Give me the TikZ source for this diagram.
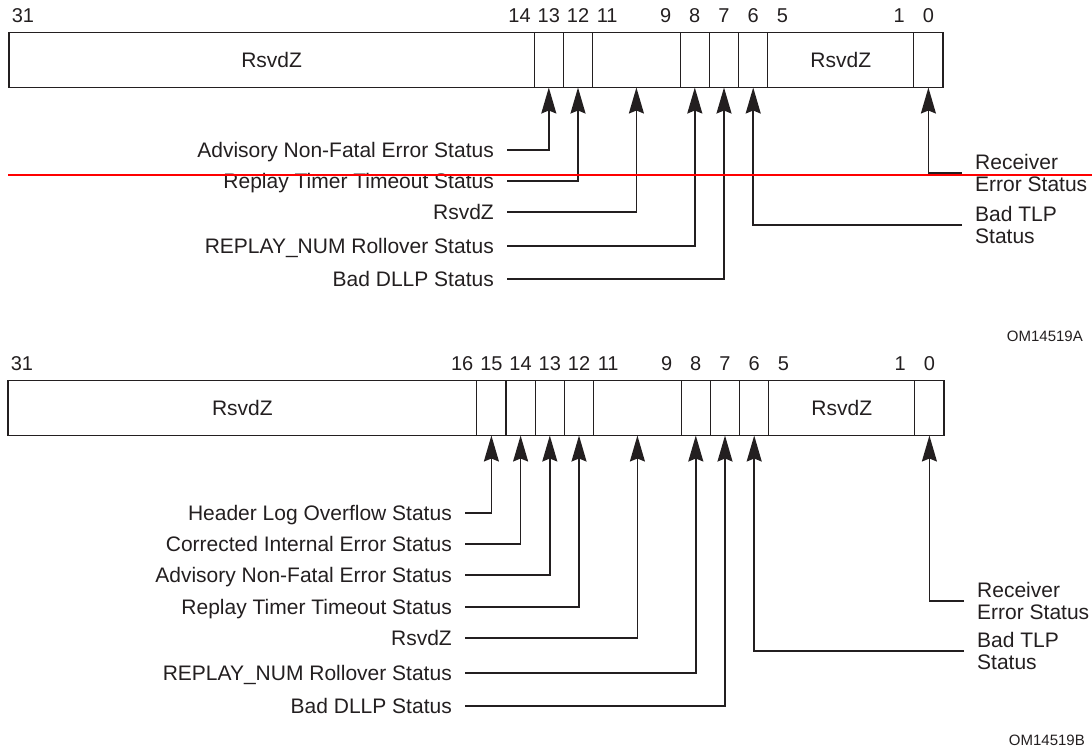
\documentclass[tikz,border=0pt]{standalone}
\usepackage{fontspec}
\setmainfont{Liberation Sans}
\usepackage{tikz}
\usetikzlibrary{arrows.meta,positioning}

\definecolor{ink}{HTML}{231F20}

\tikzset{
  field/.style={draw=ink, line width=1.1pt, minimum height=55pt, inner sep=0pt, outer sep=0pt, text=ink},
  onebit/.style={field, minimum width=29.2pt},
  bitno/.style={text=ink, inner sep=0pt, font=\fontsize{20}{22}\selectfont},
  lbl/.style={anchor=east, inner xsep=13pt, inner ysep=0pt, text height=15pt, text depth=0pt, text=ink},
  rlbl/.style={anchor=west, align=left, inner xsep=13pt, inner ysep=0pt, text=ink},
  arrowline/.style={draw=ink, line width=1.6pt, -{Stealth[length=26pt,width=15pt,inset=3pt]}},
  tag/.style={anchor=east, inner sep=0pt, text=ink, font=\fontsize{15}{17}\selectfont}
}

\begin{document}
\begin{tikzpicture}[x=1pt, y=-1pt, font=\fontsize{21}{21.5}\selectfont]
\path[use as bounding box] (0,0) rectangle (1092,750);

% upper register
\node[field, minimum width=525.2pt] (A31) at (271.6,60) {RsvdZ};
\node[onebit, right=0pt of A31] (A13) {};
\node[onebit, right=0pt of A13] (A12) {};
\node[field, minimum width=87.6pt, right=0pt of A12] (A11) {};
\node[onebit, right=0pt of A11] (A8) {};
\node[onebit, right=0pt of A8] (A7) {};
\node[onebit, right=0pt of A7] (A6) {};
\node[field, minimum width=146pt, right=0pt of A6] (A5) {RsvdZ};
\node[onebit, right=0pt of A5] (A0) {};
\draw[ink, line width=1.8pt] (A31.north west) rectangle (A0.south east);

\node[bitno] (na31) at (23,16) {31};
\node[bitno] (na14) at (519.6,16) {14};
\node[bitno] (na13) at (548.8,16) {13};
\node[bitno] (na12) at (578,16) {12};
\node[bitno] (na11) at (607.2,16) {11};
\node[bitno] (na9) at (665.6,16) {9};
\node[bitno] (na8) at (694.8,16) {8};
\node[bitno] (na7) at (724,16) {7};
\node[bitno] (na6) at (753.2,16) {6};
\node[bitno] (na5) at (782.4,16) {5};
\node[bitno] (na1) at (899.2,16) {1};
\node[bitno] (na0) at (928.4,16) {0};

\node[lbl] (la13) at (507,150) {Advisory Non-Fatal Error Status};
\node[lbl] (la12) at (507,181) {Replay Timer Timeout Status};
\node[lbl] (la11) at (507,212) {RsvdZ};
\node[lbl] (la8) at (507,246) {REPLAY\_NUM Rollover Status};
\node[lbl] (la7) at (507,279) {Bad DLLP Status};
\node[rlbl] (la0) at (962,173) {Receiver\\Error Status};
\node[rlbl] (la6) at (962,225) {Bad TLP\\Status};

\draw[arrowline] (la13.east) -| (A13.south);
\draw[arrowline] (la12.east) -| (A12.south);
\draw[arrowline] (la11.east) -| (A11.south);
\draw[arrowline] (la8.east) -| (A8.south);
\draw[arrowline] (la7.east) -| (A7.south);
\draw[arrowline] (la0.west) -| (A0.south);
\draw[arrowline] (la6.west) -| (A6.south);

\node[tag] (omA) at (1083,336) {OM14519A};

% lower register
\node[field, minimum width=468.8pt] (B31) at (242.4,408) {RsvdZ};
\node[onebit, right=0pt of B31] (B15) {};
\node[onebit, right=0pt of B15] (B14) {};
\node[onebit, right=0pt of B14] (B13) {};
\node[onebit, right=0pt of B13] (B12) {};
\node[field, minimum width=87.6pt, right=0pt of B12] (B11) {};
\node[onebit, right=0pt of B11] (B8) {};
\node[onebit, right=0pt of B8] (B7) {};
\node[onebit, right=0pt of B7] (B6) {};
\node[field, minimum width=146pt, right=0pt of B6] (B5) {RsvdZ};
\node[onebit, right=0pt of B5] (B0) {};
\draw[ink, line width=1.8pt] (B31.north west) rectangle (B0.south east);

\node[bitno] (nb31) at (22,363.5) {31};
\node[bitno] (nb16) at (462.2,363.5) {16};
\node[bitno] (nb15) at (491.4,363.5) {15};
\node[bitno] (nb14) at (520.6,363.5) {14};
\node[bitno] (nb13) at (549.8,363.5) {13};
\node[bitno] (nb12) at (579,363.5) {12};
\node[bitno] (nb11) at (608.2,363.5) {11};
\node[bitno] (nb9) at (666.6,363.5) {9};
\node[bitno] (nb8) at (695.8,363.5) {8};
\node[bitno] (nb7) at (725,363.5) {7};
\node[bitno] (nb6) at (754.2,363.5) {6};
\node[bitno] (nb5) at (783.4,363.5) {5};
\node[bitno] (nb1) at (900.2,363.5) {1};
\node[bitno] (nb0) at (929.4,363.5) {0};

\node[lbl] (lb15) at (465,513) {Header Log Overflow Status};
\node[lbl] (lb14) at (465,544) {Corrected Internal Error Status};
\node[lbl] (lb13) at (465,575) {Advisory Non-Fatal Error Status};
\node[lbl] (lb12) at (465,607) {Replay Timer Timeout Status};
\node[lbl] (lb11) at (465,638) {RsvdZ};
\node[lbl] (lb8) at (465,673) {REPLAY\_NUM Rollover Status};
\node[lbl] (lb7) at (465,706) {Bad DLLP Status};
\node[rlbl] (lb0) at (964,601) {Receiver\\Error Status};
\node[rlbl] (lb6) at (964,651) {Bad TLP\\Status};

\draw[arrowline] (lb15.east) -| (B15.south);
\draw[arrowline] (lb14.east) -| (B14.south);
\draw[arrowline] (lb13.east) -| (B13.south);
\draw[arrowline] (lb12.east) -| (B12.south);
\draw[arrowline] (lb11.east) -| (B11.south);
\draw[arrowline] (lb8.east) -| (B8.south);
\draw[arrowline] (lb7.east) -| (B7.south);
\draw[arrowline] (lb0.west) -| (B0.south);
\draw[arrowline] (lb6.west) -| (B6.south);

\node[tag] (omB) at (1085,740) {OM14519B};

% red guide across the upper labels
\draw[red, line width=2pt] (8,174.5) -- (1092,174.5);
\end{tikzpicture}
\end{document}
